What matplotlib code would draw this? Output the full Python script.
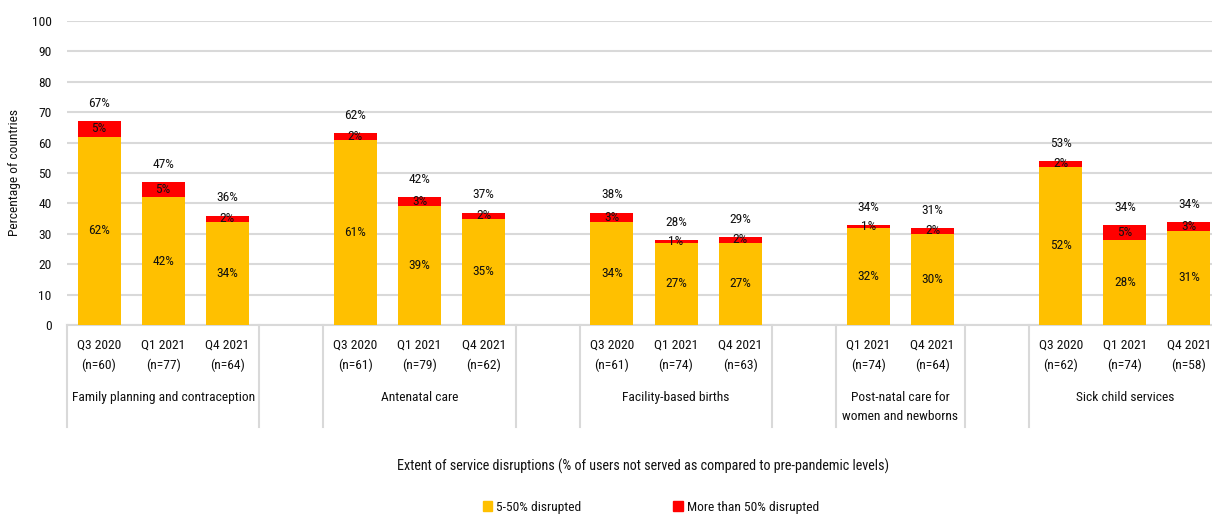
import numpy as np
import matplotlib
matplotlib.use("Agg")
import matplotlib.pyplot as plt
import matplotlib.transforms as mtransforms
from matplotlib.patches import Patch

plt.rcParams['font.family'] = ['Roboto Condensed', 'Liberation Sans Narrow', 'Roboto', 'DejaVu Sans']
plt.rcParams['font.stretch'] = 'condensed'

groups = ["Family planning and contraception", "Antenatal care", "Facility-based births",
          "Post-natal care for\nwomen and newborns", "Sick child services"]
periods = [["Q3 2020\n(n=60)", "Q1 2021\n(n=77)", "Q4 2021\n(n=64)"],
           ["Q3 2020\n(n=61)", "Q1 2021\n(n=79)", "Q4 2021\n(n=62)"],
           ["Q3 2020\n(n=61)", "Q1 2021\n(n=74)", "Q4 2021\n(n=63)"],
           ["Q1 2021\n(n=74)", "Q4 2021\n(n=64)"],
           ["Q3 2020\n(n=62)", "Q1 2021\n(n=74)", "Q4 2021\n(n=58)"]]

moderate = [62, 42, 34, 61, 39, 35, 34, 27, 27, 32, 30, 52, 28, 31]
severe = [5, 5, 2, 2, 3, 2, 3, 1, 2, 1, 2, 2, 5, 3]
totals = [67, 47, 36, 62, 42, 37, 38, 28, 29, 34, 31, 53, 34, 34]

YELLOW = '#FFC000'
RED = '#FF0000'
GRID = '#D9D9D9'
FS = 9.7
TXT = '#111111'

# slot positions: one empty slot between groups
xpos = []
ticklabels = []
group_centers = []
boundaries = [0]
slot = 0
for gi, plist in enumerate(periods):
    start = slot
    for p in plist:
        xpos.append(slot + 0.5)
        ticklabels.append(p)
        slot += 1
    group_centers.append((start + slot) / 2)
    boundaries.append(slot)
    if gi < len(periods) - 1:
        slot += 1
        boundaries.append(slot)
nslots = slot
xpos = np.array(xpos)
moderate = np.array(moderate)
severe = np.array(severe)

fig = plt.figure(figsize=(12.12, 5.15), dpi=100)
ax = fig.add_axes([67 / 1212, 190 / 515, 1154 / 1212, 304 / 515])

ax.bar(xpos, moderate, width=0.67, color=YELLOW, zorder=3)
ax.bar(xpos, severe, width=0.67, bottom=moderate, color=RED, zorder=3)

for x, m, s, t in zip(xpos, moderate, severe, totals):
    ax.text(x, m / 2, f"{m}%", ha='center', va='center', fontsize=FS, color=TXT, zorder=4)
    ax.text(x, m + s / 2, f"{s}%", ha='center', va='center', fontsize=FS, color=TXT, zorder=4)
    ax.text(x, m + s + 5.8, f"{t}%", ha='center', va='center', fontsize=FS, color=TXT, zorder=4)

ax.set_xlim(0, nslots)
ax.set_ylim(0, 100)
ax.set_yticks(range(0, 101, 10))
ax.yaxis.grid(True, color=GRID, linewidth=1.5, zorder=0)
ax.set_axisbelow(True)
for side in ['left', 'right', 'top']:
    ax.spines[side].set_visible(False)
ax.spines['bottom'].set_color(GRID)
ax.spines['bottom'].set_linewidth(1.5)
ax.tick_params(axis='y', length=0, pad=11, labelsize=FS, labelcolor=TXT)
ax.tick_params(axis='x', length=0, pad=10, labelsize=FS, labelcolor=TXT)
ax.set_xticks(xpos)
ax.set_xticklabels(ticklabels, linespacing=1.65)

trans = mtransforms.blended_transform_factory(ax.transData, ax.transAxes)
for b in boundaries:
    ax.plot([b, b], [0, -0.336], transform=trans, color=GRID, linewidth=1.5,
            clip_on=False)
for c, g in zip(group_centers, groups):
    ax.text(c, -0.218, g, transform=trans, ha='center', va='top', fontsize=FS,
            color=TXT, linespacing=1.6)

ax.set_ylabel("Percentage of countries", fontsize=FS, color=TXT)
ax.yaxis.set_label_coords(-46 / 1154, 0.5)

fig.text(643 / 1212, 1 - 466 / 515,
         "Extent of service disruptions (% of users not served as compared to pre-pandemic levels)",
         ha='center', va='center', fontsize=10.2, color=TXT)

handles = [Patch(color=YELLOW, label='5-50% disrupted'),
           Patch(color=RED, label='More than 50% disrupted')]
fig.legend(handles=handles, loc='center', bbox_to_anchor=(651 / 1212, 1 - 507 / 515),
           ncol=2, frameon=False, fontsize=FS, handlelength=0.7, handleheight=0.7,
           handletextpad=0.3, columnspacing=6.8, labelcolor=TXT)

fig.savefig("out.png", dpi=100)
